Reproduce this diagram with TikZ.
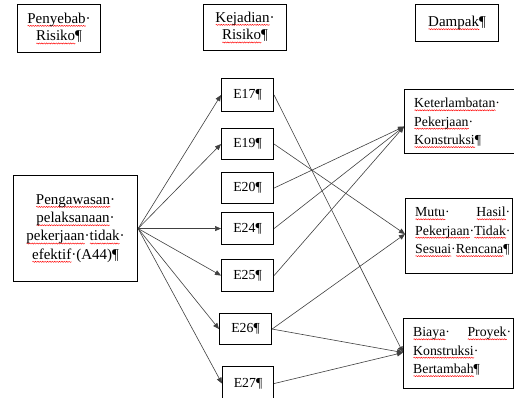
\documentclass[tikz,border=0pt]{standalone}
\usepackage{fontspec}
\setmainfont{Liberation Serif}
\usetikzlibrary{arrows.meta,decorations.pathmorphing}
\newsavebox\wvbox
\newcommand\wv[1]{\leavevmode\sbox\wvbox{#1}\rlap{\tikz[baseline=0pt]\draw[red,line width=0.45pt,decorate,decoration={snake,amplitude=0.55pt,segment length=2.4pt}] (0pt,-2.6pt) -- (\wd\wvbox,-2.6pt);}\usebox\wvbox}
\begin{document}
\begin{tikzpicture}[x=1pt,y=-1pt,
  box/.style={draw=black,line width=1.1pt,inner sep=0pt,anchor=north west},
  lbl/.style={font=\fontsize{13.8}{18.4}\selectfont,inner sep=0pt,align=center},
  big/.style={font=\fontsize{15}{17.6}\selectfont},
  rtxt/.style={font=\fontsize{13.8}{18.4}\selectfont,inner sep=0pt,anchor=west},
  con/.style={draw=black!75,line width=0.6pt,-{Triangle[length=6pt,width=5pt]}}]
\useasboundingbox (0,0) rectangle (514,398);
\clip (0,0) rectangle (514,398);
\fill[white] (0,0) rectangle (514,398);
% headers
\node[box,lbl,big,minimum width=83pt,minimum height=48pt] (h1) at (17,4) {\wv{Penyebab}·\\\wv{Risiko}¶};
\node[box,lbl,big,minimum width=83pt,minimum height=46pt] (h2) at (203,4) {\wv{Kejadian}·\\\wv{Risiko}¶};
\node[box,lbl,big,minimum width=83pt,minimum height=37pt] (h3) at (415,4) {\wv{Dampak}¶};
% cause
\node[box,lbl,font=\fontsize{15}{18.3}\selectfont,minimum width=124pt,minimum height=106pt] (a) at (13,175)
  {\wv{Pengawasan}·\\\wv{pelaksanaan}·\\\wv{pekerjaan}·\wv{tidak}·\\\wv{efektif}·(A44)¶};
% events
\node[box,lbl,minimum width=52pt,minimum height=33pt] (e17) at (221,78) {E17¶};
\node[box,lbl,minimum width=52pt,minimum height=31pt] (e19) at (221,128) {E19¶};
\node[box,lbl,minimum width=52pt,minimum height=31pt] (e20) at (221,172) {E20¶};
\node[box,lbl,minimum width=52pt,minimum height=32pt] (e24) at (221,212) {E24¶};
\node[box,lbl,minimum width=52pt,minimum height=32pt] (e25) at (221,259) {E25¶};
\node[box,lbl,minimum width=52pt,minimum height=31pt] (e26) at (219,313) {E26¶};
\node[box,lbl,minimum width=51pt,minimum height=34pt] (e27) at (222,366) {E27¶};
% impacts
\node[box,minimum width=112pt,minimum height=64pt] (k) at (404,89) {};
\node[box,minimum width=107pt,minimum height=75pt] (m) at (405,198) {};
\node[box,minimum width=110pt,minimum height=70pt] (b) at (403,318) {};
\node[rtxt,text width=98pt,align=left] (kt) at (414,123)
  {\wv{Keterlambatan}·\\\wv{Pekerjaan}·\\\wv{Konstruksi}¶};
\node[rtxt,text width=95pt,align=left] (mt) at (415,232)
  {\wv{Mutu}·\hfill\wv{Hasil}·\\\wv{Pekerjaan}·\wv{Tidak}·\\\wv{Sesuai}·\wv{Rencana}¶};
\node[rtxt,text width=98pt,align=left] (bt) at (413,352)
  {\wv{Biaya}·\hfill\wv{Proyek}·\\\wv{Konstruksi}·\\\wv{Bertambah}¶};
\coordinate (kin) at ([yshift=-5pt]k.west);
\coordinate (min) at ([yshift=2pt]m.west);
\coordinate (bin) at ([yshift=1pt]b.west);
% connectors cause -> events
\draw[con] (a.east) -- (e17.west);
\draw[con] (a.east) -- (e19.west);
\draw[con] (a.east) -- (e24.west);
\draw[con] (a.east) -- (e25.west);
\draw[con] (a.east) -- (e26.west);
\draw[con] (a.east) -- (e27.west);
% events -> impacts
\draw[con] (e17.east) -- (bin);
\draw[con] (e19.east) -- (min);
\draw[con] (e20.east) -- (kin);
\draw[con] (e24.east) -- (kin);
\draw[con] (e25.east) -- (kin);
\draw[con] (e26.east) -- (min);
\draw[con] (e26.east) -- (bin);
\draw[con] (e27.east) -- (bin);
\end{tikzpicture}
\end{document}
